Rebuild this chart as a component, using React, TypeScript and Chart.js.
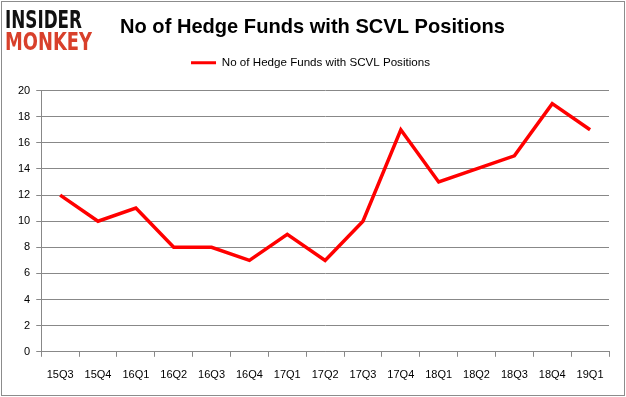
import React, { useEffect, useRef } from "react";
import { Chart, registerables } from "chart.js";

Chart.register(...registerables);

const categories = ["15Q3", "15Q4", "16Q1", "16Q2", "16Q3", "16Q4", "17Q1", "17Q2", "17Q3", "17Q4", "18Q1", "18Q2", "18Q3", "18Q4", "19Q1"];
const hedgeFunds = [12, 10, 11, 8, 8, 7, 9, 7, 10, 17, 13, 14, 15, 19, 17];
const seriesName = "No of Hedge Funds with SCVL Positions";
const titleText = "No of Hedge Funds with SCVL Positions";

const FONT = "'Liberation Sans', Arial, sans-serif";

const legendGapPlugin = {
  id: "legendGap",
  afterInit(chart: any) {
    const lg = chart.legend;
    if (lg && !lg.__patched) {
      const orig = lg.fit.bind(lg);
      lg.fit = () => {
        orig();
        lg.height += 12;
      };
      lg.__patched = true;
    }
  },
};

const decorPlugin = {
  id: "decor",
  beforeDraw(chart: any) {
    const ctx = chart.ctx as CanvasRenderingContext2D;
    ctx.save();
    ctx.fillStyle = "#ffffff";
    ctx.fillRect(0, 0, chart.width, chart.height);
    ctx.restore();
  },
  afterDraw(chart: any) {
    const ctx = chart.ctx as CanvasRenderingContext2D;
    ctx.save();
    // border
    ctx.strokeStyle = "#8c8c8c";
    ctx.lineWidth = 1;
    ctx.strokeRect(1.5, 1.5, chart.width - 3, chart.height - 3);
    // logo
    const drawFit = (text: string, x: number, yBase: number, w: number, size: number, color: string) => {
      ctx.font = `900 ${size}px 'DejaVu Sans', sans-serif`;
      const m = ctx.measureText(text).width;
      ctx.save();
      ctx.translate(x, yBase);
      ctx.scale(w / m, 1);
      ctx.fillStyle = color;
      ctx.textBaseline = "alphabetic";
      ctx.fillText(text, 0, 0);
      ctx.restore();
    };
    drawFit("INSIDER", 5, 28, 77, 25, "#111111");
    drawFit("MONKEY", 5, 50, 87, 25, "#d8402b");
    // title
    ctx.font = `bold 21px ${FONT}`;
    ctx.fillStyle = "#000000";
    ctx.textBaseline = "middle";
    const tw = ctx.measureText(titleText).width;
    ctx.save();
    ctx.translate(120, 27);
    ctx.scale(385 / tw, 1);
    ctx.fillText(titleText, 0, 0);
    ctx.restore();
    ctx.restore();
  },
};

export default function App() {
  const ref = useRef<HTMLCanvasElement>(null);
  useEffect(() => {
    document.body.style.margin = "0";
    const chart = new Chart(ref.current!, {
      type: "line",
      data: {
        labels: categories,
        datasets: [
          {
            label: seriesName,
            data: hedgeFunds,
            borderColor: "#ff0000",
            backgroundColor: "#ff0000",
            borderWidth: 3.5,
            pointRadius: 0,
            tension: 0,
          },
        ],
      },
      options: {
        responsive: false,
        animation: false,
        layout: { padding: { top: 51, right: 17, bottom: 3, left: 12 } },
        plugins: {
          legend: {
            display: true,
            position: "top",
            labels: {
              boxWidth: 25,
              boxHeight: 3,
              color: "#000",
              font: { family: FONT, size: 11.6 },
              padding: 6,
              generateLabels: (chart: any) =>
                Chart.defaults.plugins.legend.labels.generateLabels(chart).map((l: any) => ({
                  ...l,
                  lineWidth: 0,
                  strokeStyle: "rgba(0,0,0,0)",
                  fillStyle: "#ff0000",
                })),
            },
          },
          title: { display: false },
          tooltip: { enabled: false },
        },
        scales: {
          x: {
            offset: true,
            grid: {
              display: true,
              offset: true,
              drawOnChartArea: false,
              drawTicks: true,
              tickLength: 5,
              color: "#888888",
            },
            border: { display: true, color: "#888888" },
            ticks: { color: "#000", font: { family: FONT, size: 11 }, padding: 12, maxRotation: 0, autoSkip: false },
          },
          y: {
            min: 0,
            max: 20,
            ticks: { stepSize: 2, color: "#000", font: { family: FONT, size: 11 }, padding: 6 },
            grid: { color: "#888888", tickLength: 5 },
            border: { display: true, color: "#888888" },
          },
        },
      },
      plugins: [legendGapPlugin, decorPlugin],
    });
    return () => chart.destroy();
  }, []);
  return <canvas ref={ref} width={626} height={397} style={{ display: "block" }} />;
}
